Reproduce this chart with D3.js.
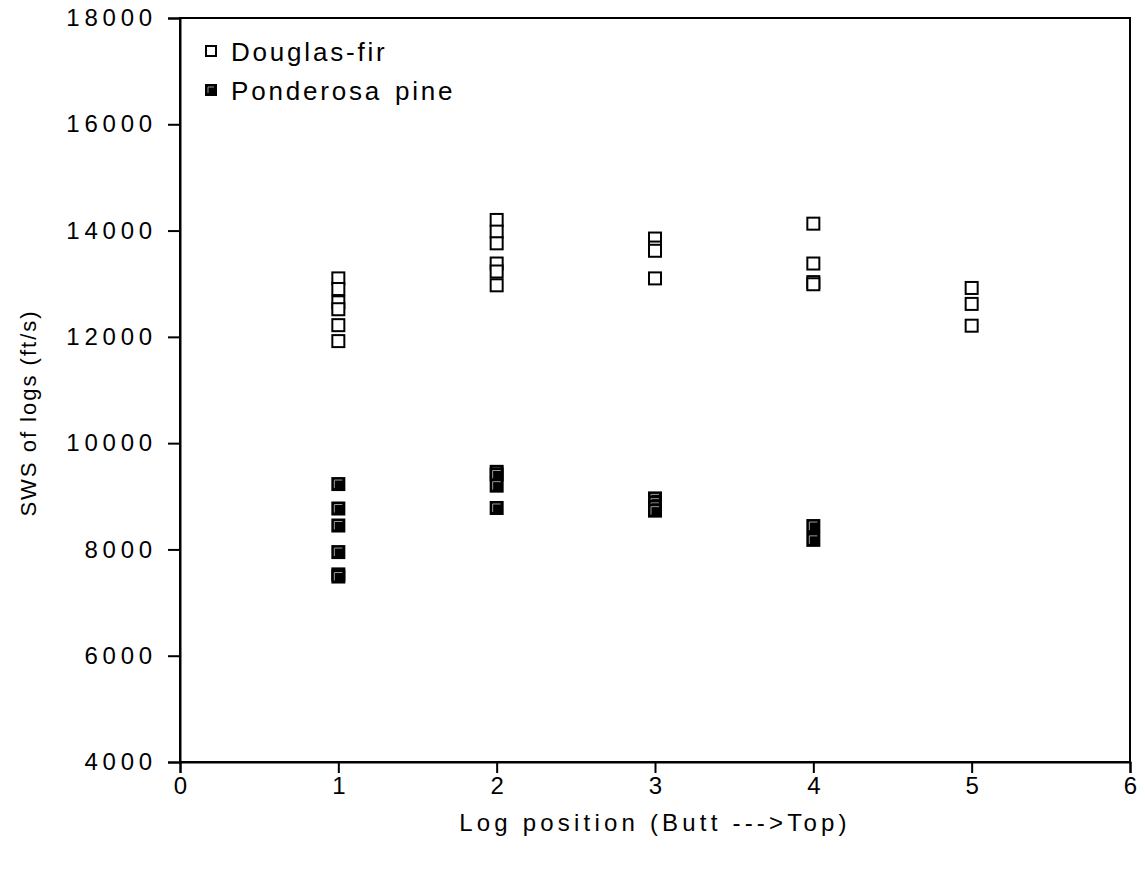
<!DOCTYPE html>
<html>
<head>
<meta charset="utf-8">
<script src="https://cdn.jsdelivr.net/npm/d3@7"></script>
<style>
  body { margin: 0; background: #fff; }
  text { font-family: "Liberation Sans", Arial, sans-serif; fill: #000; }
</style>
</head>
<body>
<div id="chart"></div>
<script>
"use strict";

// log position of each sample, and SWS (ft/s)
var dfPos = [1, 1, 1, 1, 1, 1,
             2, 2, 2, 2, 2, 2,
             3, 3, 3, 3,
             4, 4, 4, 4,
             5, 5, 5];
var dfSws = [13100, 12900, 12650, 12520, 12220, 11920,
             14200, 13980, 13760, 13380, 13230, 12970,
             13850, 13680, 13620, 13100,
             14130, 13380, 13030, 12990,
             12920, 12620, 12210];

var ppPos = [1, 1, 1, 1, 1, 1,
             2, 2, 2, 2,
             3, 3, 3, 3,
             4, 4];
var ppSws = [9230, 8770, 8450, 7950, 7530, 7490,
             9460, 9410, 9200, 8780,
             8960, 8880, 8800, 8730,
             8440, 8180];

var xTicks = [0, 1, 2, 3, 4, 5, 6];
var yTicks = [4000, 6000, 8000, 10000, 12000, 14000, 16000, 18000];
var seriesNames = ["Douglas-fir", "Ponderosa pine"];

var width = 1145, height = 870;
var margin = {top: 18, right: 15, bottom: 108, left: 180};

var svg = d3.select("#chart").append("svg")
  .attr("width", width)
  .attr("height", height);

var x = d3.scaleLinear().domain([0, 6]).range([margin.left, width - margin.right]);
var y = d3.scaleLinear().domain([4000, 18000]).range([height - margin.bottom, margin.top]);

// frame
svg.append("rect")
  .attr("x", x(0))
  .attr("y", y(18000))
  .attr("width", x(6) - x(0))
  .attr("height", y(4000) - y(18000))
  .attr("fill", "none")
  .attr("stroke", "#000")
  .attr("stroke-width", 2);

var xAxis = svg.append("g")
  .attr("transform", "translate(0," + y(4000) + ")")
  .call(d3.axisBottom(x).tickValues(xTicks).tickFormat(d3.format("d")).tickSize(11).tickPadding(4));

var yAxis = svg.append("g")
  .attr("transform", "translate(" + x(0) + ",0)")
  .call(d3.axisLeft(y).tickValues(yTicks).tickFormat(d3.format("d")).tickSize(12).tickPadding(11));

[xAxis, yAxis].forEach(function(ax) {
  ax.select(".domain").attr("stroke-width", 2);
  ax.selectAll(".tick line").attr("stroke-width", 2);
  ax.selectAll("text")
    .style("font-size", "24px")
    .style("letter-spacing", "4.8px")
    .attr("fill", "#000");
});
xAxis.selectAll("text").attr("dx", "0.1em");

// axis titles
svg.append("text")
  .attr("x", (x(0) + x(6)) / 2)
  .attr("y", 831)
  .attr("text-anchor", "middle")
  .style("font-size", "24px")
  .style("letter-spacing", "4.2px")
  .text("Log position (Butt --->Top)");

svg.append("text")
  .attr("transform", "translate(36,413) rotate(-90)")
  .attr("text-anchor", "middle")
  .style("font-size", "22px")
  .style("letter-spacing", "2px")
  .text("SWS of logs (ft/s)");

function openSquare(g, cx, cy, s) {
  g.append("rect")
    .attr("x", cx - s / 2)
    .attr("y", cy - s / 2)
    .attr("width", s)
    .attr("height", s)
    .attr("fill", "#fff")
    .attr("stroke", "#000")
    .attr("stroke-width", 2);
}

function filledSquare(g, cx, cy, s) {
  g.append("rect")
    .attr("x", cx - s / 2)
    .attr("y", cy - s / 2)
    .attr("width", s)
    .attr("height", s)
    .attr("fill", "#000")
    .attr("stroke", "#000")
    .attr("stroke-width", 2);
  g.append("path")
    .attr("d", "M" + (cx - s / 2 + 2) + "," + (cy + s / 2 - 2) +
      "V" + (cy - s / 2 + 2) + "H" + (cx + s / 2 - 2))
    .attr("fill", "none")
    .attr("stroke", "#9a9a9a")
    .attr("stroke-width", 1);
}

var dfLayer = svg.append("g").attr("class", "douglas");
dfSws.forEach(function(v, i) {
  openSquare(dfLayer, x(dfPos[i]), y(v), 12);
});

var ppLayer = svg.append("g").attr("class", "ponderosa");
ppSws.forEach(function(v, i) {
  filledSquare(ppLayer, x(ppPos[i]), y(v), 12);
});

// legend
var legend = svg.append("g").attr("class", "legend");
seriesNames.forEach(function(name, i) {
  var ly = 51 + i * 39;
  if (i == 0) {
    openSquare(legend, 211, ly, 10);
  } else {
    filledSquare(legend, 211, ly, 10);
  }
  legend.append("text")
    .attr("x", 231)
    .attr("y", ly + 10)
    .style("font-size", "26px")
    .style("letter-spacing", "2.8px")
    .style("word-spacing", "3px")
    .text(name);
});
</script>
</body>
</html>
